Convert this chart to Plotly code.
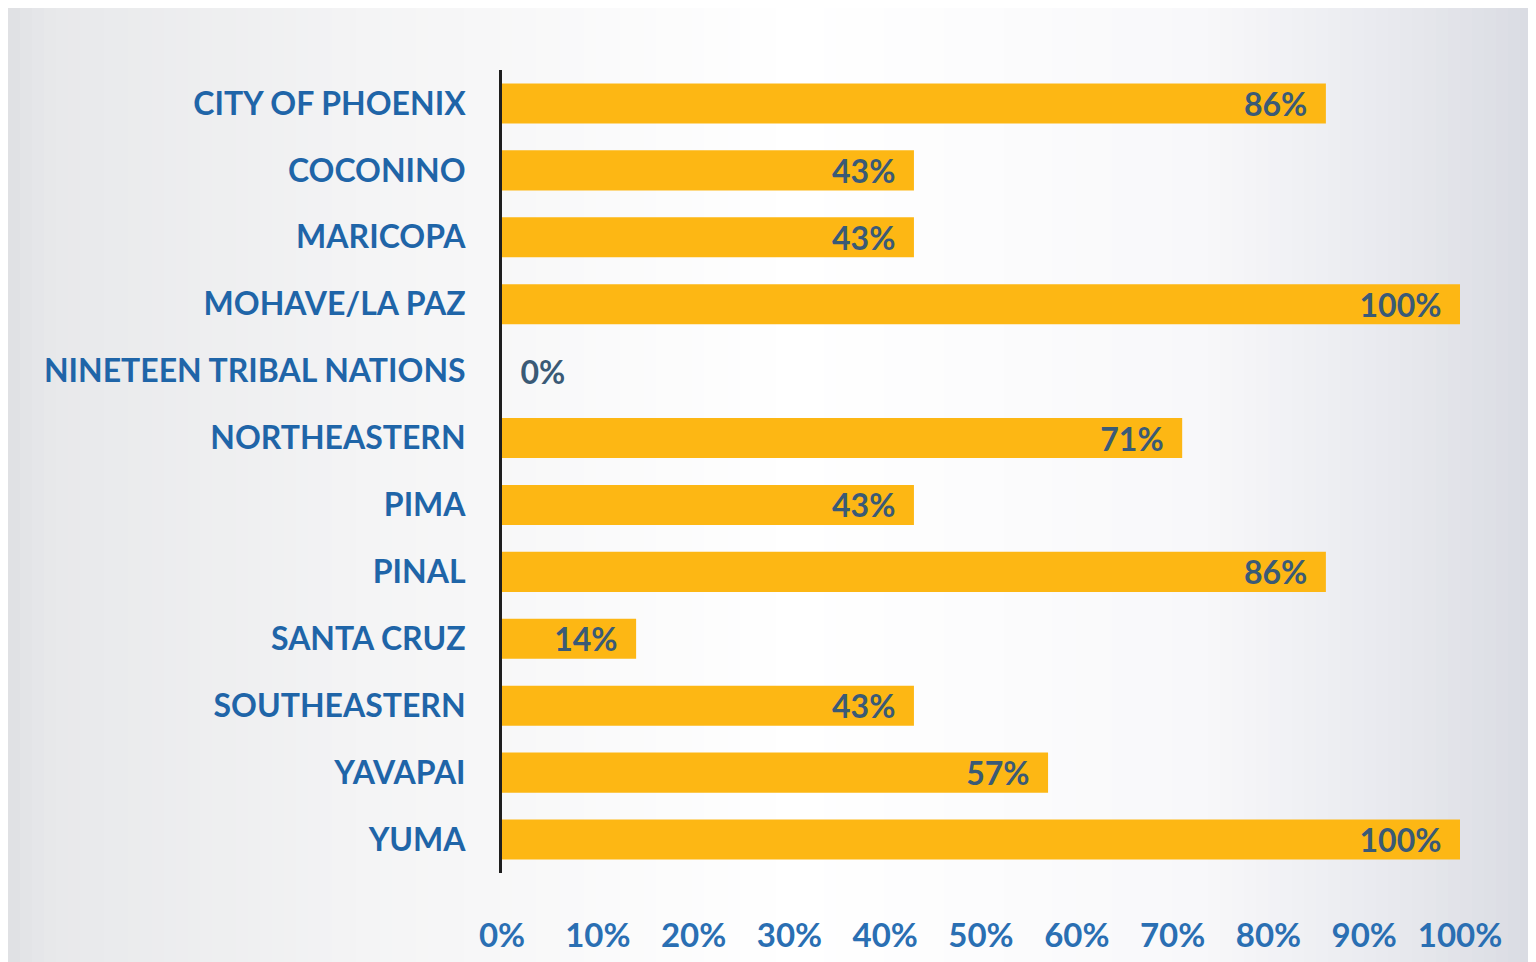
import plotly.graph_objects as go

categories = ["CITY OF PHOENIX", "COCONINO", "MARICOPA", "MOHAVE/LA PAZ",
              "NINETEEN TRIBAL NATIONS", "NORTHEASTERN", "PIMA", "PINAL",
              "SANTA CRUZ", "SOUTHEASTERN", "YAVAPAI", "YUMA"]
values = [86, 43, 43, 100, 0, 71, 43, 86, 14, 43, 57, 100]
tick_vals = [0, 10, 20, 30, 40, 50, 60, 70, 80, 90, 100]
tick_text = [f"{v}%" for v in tick_vals]

W, H = 1536, 962
OFF = 8  # default page body margin
L, R, T, B = 502 - OFF, 76 + OFF, 70 - OFF, 89 + OFF

NB = "\u00a0"
labels = [f"{NB}{NB}{v}%" if v == 0 else f"{v}%{NB}{NB}" for v in values]

fig = go.Figure()
fig.add_trace(go.Bar(
    y=categories, x=values, orientation="h",
    marker=dict(color="#FDB714", line=dict(width=0)),
    width=0.6,
    text=labels,
    textposition=["outside" if v == 0 else "inside" for v in values],
    insidetextanchor="end",
    constraintext="none",
    cliponaxis=False,
    textfont=dict(family="Lato", size=32, color="#3a5a76", weight="bold"),
    hoverinfo="skip",
))

# background gradient (scan-like), stops in page pixels
def lerp(a, b, t):
    return tuple(int(round(a[i] + (b[i] - a[i]) * t)) for i in range(3))

stops = [(0, (200, 200, 202)), (15, (226, 227, 230)), (60, (232, 233, 235)),
         (400, (245, 245, 246)), (800, (255, 255, 255)), (1200, (248, 248, 250)),
         (1400, (232, 233, 238)), (1544, (216, 218, 225))]
shapes = []
step = 12
pw = W - L - R
ph = H - T - B
for x0 in range(0, W, step):
    xc = x0 + OFF + step / 2
    c = stops[-1][1]
    for i in range(len(stops) - 1):
        if stops[i][0] <= xc <= stops[i + 1][0]:
            t = (xc - stops[i][0]) / (stops[i + 1][0] - stops[i][0])
            c = lerp(stops[i][1], stops[i + 1][1], t)
            break
    shapes.append(dict(type="rect", xref="paper", yref="paper",
                       x0=(x0 - L) / pw, x1=(x0 + step + 1 - L) / pw,
                       y0=-B / ph, y1=(ph + T) / ph,
                       fillcolor="rgb(%d,%d,%d)" % c, line=dict(width=0), layer="below"))

fig.update_layout(
    width=W, height=H, autosize=False,
    margin=dict(l=L, r=R, t=T, b=B, pad=0),
    paper_bgcolor="#f4f4f6",
    plot_bgcolor="rgba(0,0,0,0)",
    showlegend=False,
    shapes=shapes,
    bargap=0.4,
    xaxis=dict(range=[0, 100], tickvals=tick_vals, ticktext=tick_text,
               showgrid=False, zeroline=False, showline=False, ticks="",
               ticklabelstandoff=40,
               tickfont=dict(family="Lato", size=33, color="#2a6fb3", weight="bold")),
    yaxis=dict(categoryorder="array", categoryarray=categories, autorange="reversed",
               showgrid=False, zeroline=False, showline=True, linecolor="#1e1e1e",
               linewidth=3, ticks="", ticklabelstandoff=27,
               tickfont=dict(family="Lato", size=32, color="#1f65a8", weight="bold")),
)

fig.write_html("out.html", config={"displayModeBar": False})
